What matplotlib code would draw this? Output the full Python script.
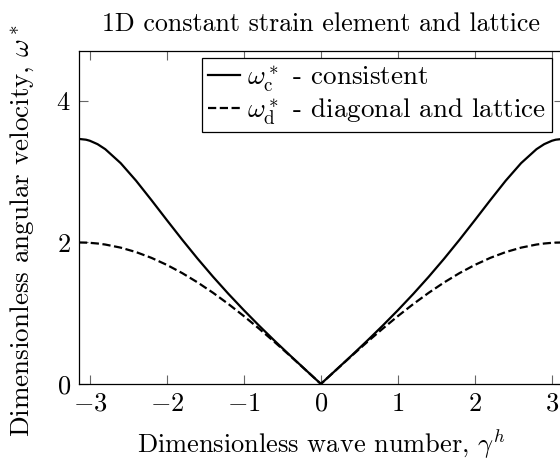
import numpy as np
import matplotlib
matplotlib.use('Agg')
import matplotlib.pyplot as plt

plt.rcParams['font.family'] = 'cmr10'
plt.rcParams['mathtext.fontset'] = 'cm'
plt.rcParams['axes.formatter.use_mathtext'] = True
plt.rcParams['font.size'] = 19

# wave number samples (-pi .. pi)
gamma_pos = [0.0, 0.2, 0.4, 0.6, 0.8, 1.0, 1.2, 1.4, 1.6, 1.8, 2.0,
             2.2, 2.4, 2.6, 2.8, 2.9, 3.0, 3.05, 3.1416]
# consistent mass
omega_c_pos = [0.0, 0.2004, 0.4026, 0.6090, 0.8214, 1.0421, 1.2727, 1.5149,
               1.7701, 2.0381, 2.3162, 2.5985, 2.8735, 3.1219, 3.3193,
               3.3901, 3.4383, 3.4533, 3.4641]
# diagonal mass / lattice
omega_d_pos = [0.0, 0.1997, 0.3973, 0.5910, 0.7788, 0.9589, 1.1293, 1.2884,
               1.4347, 1.5667, 1.6829, 1.7824, 1.8641, 1.9271, 1.9709,
               1.9854, 1.9950, 1.9979, 2.0]

gamma = [-g for g in gamma_pos[:0:-1]] + gamma_pos
omega_c = omega_c_pos[:0:-1] + omega_c_pos
omega_d = omega_d_pos[:0:-1] + omega_d_pos

fig = plt.figure(figsize=(5.6, 4.62), dpi=100)
ax = fig.add_axes([0.141, 0.169, 0.864, 0.721])

ax.plot(gamma, omega_c, 'k-', lw=1.6, label=r'$\omega^*_{\mathrm{c}}$ - consistent')
ax.plot(gamma, omega_d, 'k--', lw=1.6, label=r'$\omega^*_{\mathrm{d}}$ - diagonal and lattice')

ax.set_xlim(-np.pi, np.pi)
ax.set_ylim(0, 4.71)
ax.set_xticks([-3, -2, -1, 0, 1, 2, 3])
ax.set_yticks([0, 2, 4])
ax.tick_params(direction='in', top=True, right=True, length=6.5,
               width=0.8, color='0.4', pad=6, labelsize=19)
for s in ax.spines.values():
    s.set_linewidth(0.9)

ax.set_title('1D constant strain element and lattice', pad=14, fontsize=18.7)
ax.set_xlabel(r'Dimensionless wave number, $\gamma^h$', labelpad=8)
ax.set_ylabel(r'Dimensionless angular velocity, $\omega^*$', fontsize=19.5)
ax.yaxis.set_label_coords(-0.088, 0.46)

leg = ax.legend(loc='upper right', bbox_to_anchor=(0.977, 0.979),
                fancybox=False, edgecolor='k', framealpha=1,
                borderaxespad=0, handlelength=1.2, handletextpad=0.25,
                borderpad=0.2, labelspacing=0.1, fontsize=19.5)
leg.get_frame().set_linewidth(0.9)

fig.savefig('out.png', dpi=100)
